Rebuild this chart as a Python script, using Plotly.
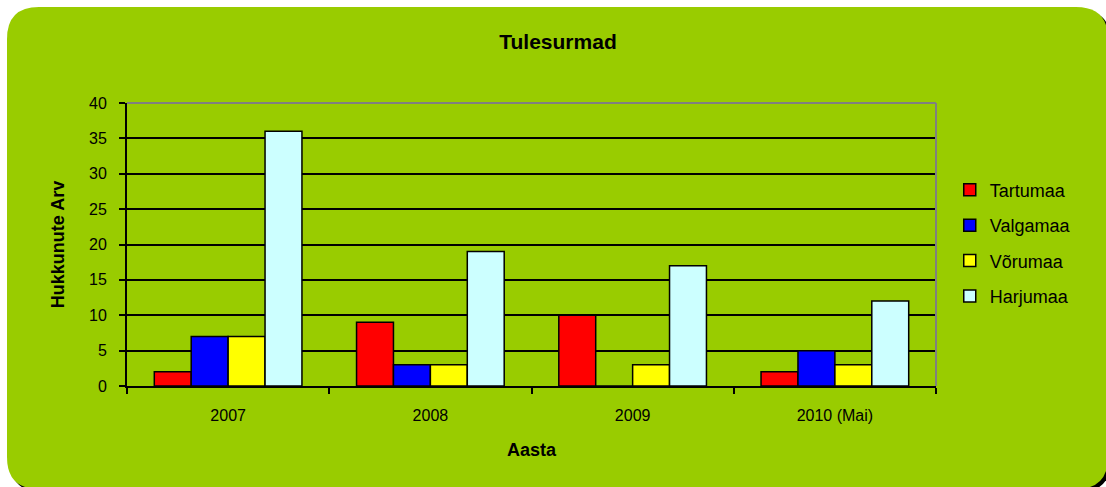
import plotly.graph_objects as go

categories = ["2007", "2008", "2009", "2010 (Mai)"]
tartumaa = [2, 9, 10, 2]
valgamaa = [7, 3, 0, 5]
vorumaa = [7, 3, 3, 3]
harjumaa = [36, 19, 17, 12]

series = [
    ("Tartumaa", tartumaa, "#FF0000"),
    ("Valgamaa", valgamaa, "#0000FF"),
    ("Võrumaa", vorumaa, "#FFFF00"),
    ("Harjumaa", harjumaa, "#CCFFFF"),
]

W, H = 1106, 487
L, R, T, B = 127, 936, 103, 386


def u(px):
    return (px - L) / (R - L)


def v(py):
    return (B - py) / (B - T)


def rounded_path(x0, y0, x1, y1, r):
    pts = [
        f"M{u(x0 + r)},{v(y0)}",
        f"L{u(x1 - r)},{v(y0)}",
        f"Q{u(x1)},{v(y0)} {u(x1)},{v(y0 + r)}",
        f"L{u(x1)},{v(y1 - r)}",
        f"Q{u(x1)},{v(y1)} {u(x1 - r)},{v(y1)}",
        f"L{u(x0 + r)},{v(y1)}",
        f"Q{u(x0)},{v(y1)} {u(x0)},{v(y1 - r)}",
        f"L{u(x0)},{v(y0 + r)}",
        f"Q{u(x0)},{v(y0)} {u(x0 + r)},{v(y0)}",
        "Z",
    ]
    return " ".join(pts)


fig = go.Figure()
for i, (name, vals, col) in enumerate(series):
    fig.add_trace(go.Bar(
        x=categories, y=vals, name=name,
        marker=dict(color=col, line=dict(color="black", width=1.5)),
        legendgroup=f"g{i}",
    ))

font_family = "Liberation Sans, Arial, sans-serif"

fig.update_layout(
    width=W, height=H,
    margin=dict(l=L, r=W - R, t=T, b=H - B, pad=0),
    paper_bgcolor="white",
    plot_bgcolor="rgba(0,0,0,0)",
    barmode="group",
    bargap=0.27,
    bargroupgap=0,
    font=dict(family=font_family, color="black", size=16),
    title=dict(text="<b>Tulesurmad</b>", x=0.5045, xref="container", xanchor="center",
               y=1 - 42 / H, yref="container", yanchor="middle",
               font=dict(size=21, family=font_family, color="black")),
    legend=dict(x=1.017, xanchor="left", y=0.505, yanchor="middle",
                font=dict(size=18, family=font_family), tracegroupgap=9,
                bgcolor="rgba(0,0,0,0)"),
    xaxis=dict(
        showline=True, linecolor="black", linewidth=2,
        ticks="outside", ticklen=6, tickwidth=2, tickcolor="black",
        tickson="boundaries", ticklabelstandoff=14,
        tickfont=dict(size=16),
        title=dict(text="<b>Aasta</b>", font=dict(size=18), standoff=20),
    ),
    yaxis=dict(
        range=[0, 40], dtick=5, tick0=0,
        showline=True, linecolor="black", linewidth=2,
        showgrid=True, gridcolor="black", gridwidth=1.5,
        zeroline=False,
        ticks="outside", ticklen=6, tickwidth=2, tickcolor="black",
        ticklabelstandoff=9,
        tickfont=dict(size=16),
        title=dict(text="<b>Hukkunute Arv</b>", font=dict(size=18), standoff=20),
    ),
    shapes=[
        dict(type="path", xref="paper", yref="paper", layer="below",
             path=rounded_path(10, 10, 1111, 492, 32),
             fillcolor="black", line=dict(width=0)),
        dict(type="path", xref="paper", yref="paper", layer="below",
             path=rounded_path(7, 7, 1108, 489, 32),
             fillcolor="#99CC00", line=dict(width=0)),
        dict(type="line", xref="paper", yref="paper", layer="above",
             x0=0, x1=1, y0=1, y1=1, line=dict(color="#808080", width=2)),
        dict(type="line", xref="paper", yref="paper", layer="above",
             x0=1, x1=1, y0=0, y1=1, line=dict(color="#808080", width=2)),
    ],
)

fig.write_html("out.html", config={"displayModeBar": False},
               post_script="document.body.style.margin='0';document.body.style.overflow='hidden';")
